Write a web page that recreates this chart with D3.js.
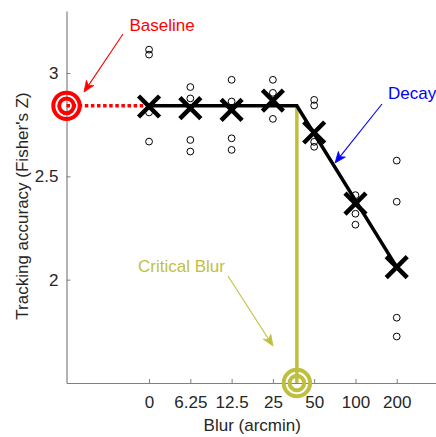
<!DOCTYPE html>
<html>
<head>
<meta charset="utf-8">
<script src="https://cdn.jsdelivr.net/npm/d3@7"></script>
<style>
  body { margin: 0; background: #fff; }
  svg { font-family: "Liberation Sans", Arial, sans-serif; }
</style>
</head>
<body>
<div id="chart"></div>
<script>
// blur levels (arcmin), shown on a log2-like axis
const blurLevels = [0, 6.25, 12.5, 25, 50, 100, 200];
const tickLabels = ["0", "6.25", "12.5", "25", "50", "100", "200"];
const yTicks = [2, 2.5, 3];

// mean tracking accuracy per blur level (the X marks)
const meanValues = [2.838, 2.83, 2.822, 2.866, 2.712, 2.368, 2.061];

// individual subjects per blur level (the small circles)
const subjectValues = [
  [3.113, 3.089, 2.809, 2.668],
  [2.932, 2.877, 2.676, 2.62],
  [2.967, 2.862, 2.684, 2.628],
  [2.967, 2.904, 2.778],
  [2.87, 2.843, 2.667, 2.643],
  [2.409, 2.319, 2.266],
  [2.576, 2.377, 1.816, 1.725],
];

const baselineValue = 2.841;
const criticalBlur = 37.4;
// fitted model: flat until the critical blur, then linear decay
const fitBlur = [0, criticalBlur, 200];
const fitValues = [2.841, 2.841, 2.061];

// position on the axis: 0 -> 0, 6.25 -> 1, 12.5 -> 2 ...
function blurIndex(b) {
  return b === 0 ? 0 : 1 + Math.log2(b / 6.25);
}

const W = 436, H = 437;
const svg = d3.select("#chart").append("svg")
  .attr("width", W).attr("height", H);

const x = d3.scaleLinear().domain([-2, 7]).range([66.5, 438]);
const y = d3.scaleLinear().domain([1.5, 3.3]).range([383, 11]);

const axisColor = "#808080", textColor = "#262626";
const olive = "#bfbf3f";

// axes
const xAxis = svg.append("g")
  .attr("transform", `translate(0, ${y(1.5)})`)
  .call(d3.axisBottom(x)
    .tickValues(blurLevels.map(blurIndex))
    .tickFormat((d, i) => tickLabels[i])
    .tickSizeInner(-4).tickSizeOuter(0).tickPadding(13));
const yAxis = svg.append("g")
  .attr("transform", `translate(${x(-2)}, 0)`)
  .call(d3.axisLeft(y).tickValues(yTicks).tickFormat(d3.format("~g"))
    .tickSizeInner(-4).tickSizeOuter(0).tickPadding(8));

[xAxis, yAxis].forEach((g) => {
  g.select(".domain").attr("stroke", axisColor).attr("stroke-width", 1.2);
  g.selectAll(".tick line").attr("stroke", axisColor);
  g.selectAll(".tick text").attr("fill", textColor)
    .style("font-size", "17px").style("font-family", "Liberation Sans, Arial, sans-serif");
});
xAxis.selectAll(".tick text").attr("dy", "0.71em");

svg.append("text")
  .attr("x", (x(-2) + x(7)) / 2).attr("y", 431)
  .attr("text-anchor", "middle").attr("fill", textColor)
  .style("font-size", "17px")
  .text("Blur (arcmin)");
svg.append("text")
  .attr("transform", `translate(27.5, ${(y(1.5) + y(3.3)) / 2 + 9}) rotate(-90)`)
  .attr("text-anchor", "middle").attr("fill", textColor)
  .style("font-size", "17px")
  .text("Tracking accuracy (Fisher's Z)");

// subject circles
const points = [];
subjectValues.forEach((vals, i) => vals.forEach((v) => points.push({ b: blurLevels[i], v })));
svg.append("g").selectAll("circle").data(points).join("circle")
  .attr("cx", (d) => x(blurIndex(d.b)))
  .attr("cy", (d) => y(d.v))
  .attr("r", 3.4)
  .attr("fill", "none").attr("stroke", "#000").attr("stroke-width", 1);

// baseline dotted line
svg.append("line")
  .attr("x1", x(-2)).attr("x2", x(0))
  .attr("y1", y(baselineValue)).attr("y2", y(baselineValue))
  .attr("stroke", "#f00").attr("stroke-width", 3.5)
  .attr("stroke-dasharray", "3.5,2.6");

// critical blur vertical line
svg.append("line")
  .attr("x1", x(blurIndex(criticalBlur))).attr("x2", x(blurIndex(criticalBlur)))
  .attr("y1", y(fitValues[1])).attr("y2", y(1.5))
  .attr("stroke", olive).attr("stroke-width", 3.5);

// model fit
const line = d3.line().x((d) => x(blurIndex(d[0]))).y((d) => y(d[1]));
svg.append("path")
  .attr("d", line(fitBlur.map((b, i) => [b, fitValues[i]])))
  .attr("fill", "none").attr("stroke", "#000").attr("stroke-width", 3.5);

// mean X markers
const s = 10.5;
svg.append("g").selectAll("path").data(meanValues).join("path")
  .attr("d", (d, i) => {
    const cx = x(blurIndex(blurLevels[i])), cy = y(d);
    return `M${cx - s},${cy - s}L${cx + s},${cy + s}M${cx - s},${cy + s}L${cx + s},${cy - s}`;
  })
  .attr("stroke", "#000").attr("stroke-width", 4.5).attr("fill", "none");

// bullseye markers
function target(cx, cy, color) {
  const g = svg.append("g");
  [13.2, 7.3].forEach((r) => g.append("circle")
    .attr("cx", cx).attr("cy", cy).attr("r", r)
    .attr("fill", "none").attr("stroke", color).attr("stroke-width", 4));
}
target(x(-2), y(baselineValue), "#f00");
target(x(blurIndex(criticalBlur)), y(1.5), olive);

// annotations (positions in data units: axis index, accuracy)
const annotations = [
  { text: "Baseline", color: "#f00", tx: 0.314, ty: 3.232, anchor: "middle", from: [-0.631, 3.189], to: [-1.576, 2.908] },
  { text: "Decay", color: "#00f", tx: 5.788, ty: 2.903, anchor: "start", from: [5.643, 2.85], to: [4.505, 2.565] },
  { text: "Critical Blur", color: olive, tx: -0.268, ty: 2.068, anchor: "start", from: [1.912, 2.018], to: [3.002, 1.679] },
];

annotations.forEach((a) => {
  svg.append("text")
    .attr("x", x(a.tx)).attr("y", y(a.ty))
    .attr("dy", "0.35em")
    .attr("text-anchor", a.anchor).attr("fill", a.color)
    .style("font-size", "17px")
    .text(a.text);
  const x1 = x(a.from[0]), y1 = y(a.from[1]);
  const x2 = x(a.to[0]), y2 = y(a.to[1]);
  const ang = Math.atan2(y2 - y1, x2 - x1);
  const len = 11, wid = 4.5, back = 8;
  const bx = x2 - len * Math.cos(ang), by = y2 - len * Math.sin(ang);
  const nx = x2 - back * Math.cos(ang), ny = y2 - back * Math.sin(ang);
  const px = -Math.sin(ang) * wid, py = Math.cos(ang) * wid;
  svg.append("line")
    .attr("x1", x1).attr("y1", y1).attr("x2", nx).attr("y2", ny)
    .attr("stroke", a.color).attr("stroke-width", 1.1);
  svg.append("path")
    .attr("d", `M${x2},${y2}L${bx + px},${by + py}L${nx},${ny}L${bx - px},${by - py}Z`)
    .attr("fill", a.color).attr("stroke", a.color).attr("stroke-width", 0.8);
});
</script>
</body>
</html>
